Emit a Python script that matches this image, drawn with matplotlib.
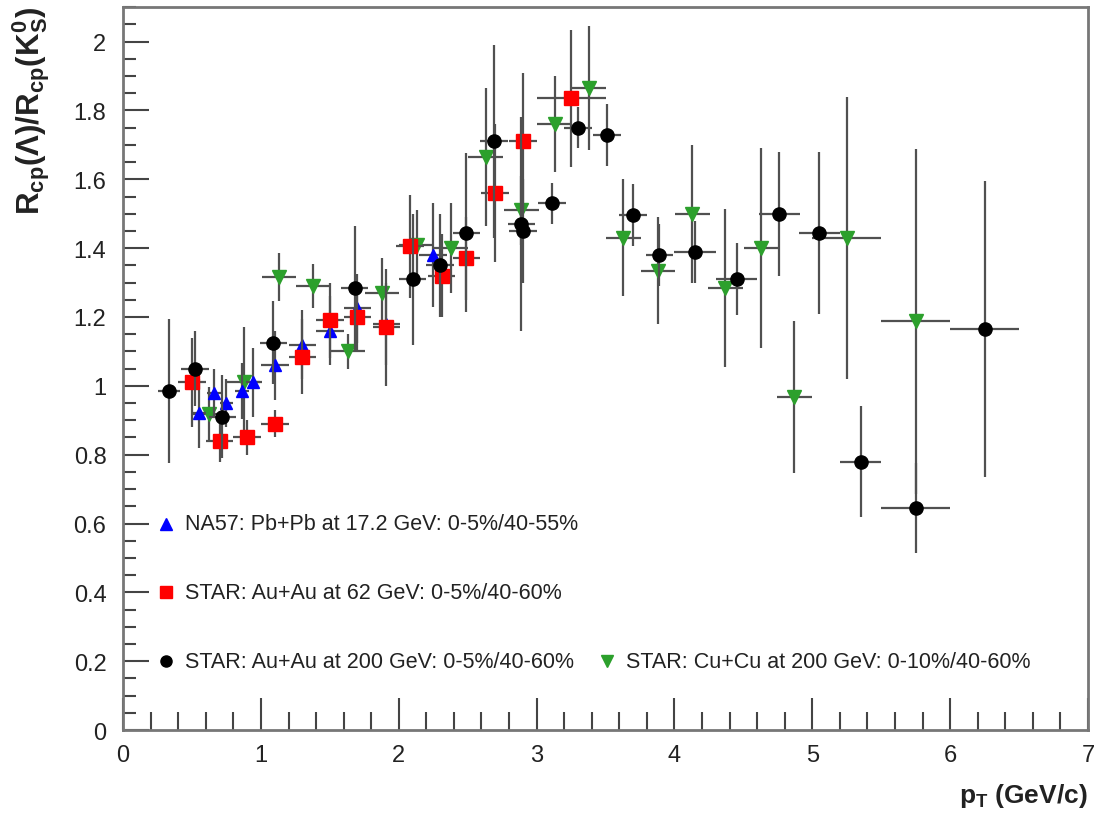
import matplotlib
matplotlib.use("Agg")
import matplotlib.pyplot as plt
from matplotlib.ticker import MultipleLocator

plt.rcParams['font.family'] = ['Liberation Sans', 'DejaVu Sans']
plt.rcParams['mathtext.fontset'] = 'custom'
plt.rcParams['mathtext.rm'] = 'Liberation Sans:bold'
plt.rcParams['mathtext.bf'] = 'Liberation Sans:bold'
plt.rcParams['mathtext.it'] = 'Liberation Sans:bold'
plt.rcParams['mathtext.default'] = 'bf'

# STAR Au+Au 200 GeV
black_x = [0.33, 0.52, 0.72, 1.09, 1.68, 2.10, 2.30, 2.49, 2.69, 2.89, 2.90, 3.11, 3.30, 3.51,
           3.70, 3.89, 4.15, 4.45, 4.76, 5.05, 5.35, 5.75, 6.25]
black_y = [0.985, 1.05, 0.91, 1.125, 1.285, 1.31, 1.35, 1.445, 1.71, 1.47, 1.45, 1.53, 1.75, 1.73,
           1.495, 1.38, 1.39, 1.31, 1.50, 1.445, 0.78, 0.645, 1.165]
black_yerr = [0.21, 0.11, 0.12, 0.12, 0.18, 0.19, 0.15, 0.23, 0.28, 0.31, 0.15, 0.06, 0.06, 0.09,
              0.09, 0.09, 0.09, 0.105, 0.18, 0.235, 0.16, 0.13, 0.43]
black_xerr = [0.08, 0.1, 0.1, 0.1, 0.1, 0.1, 0.1, 0.1, 0.1, 0.1, 0.1, 0.1, 0.1, 0.1,
              0.1, 0.1, 0.15, 0.15, 0.15, 0.15, 0.15, 0.25, 0.25]

# STAR Au+Au 62 GeV
red_x = [0.50, 0.70, 0.90, 1.10, 1.30, 1.50, 1.70, 1.91, 2.08, 2.31, 2.49, 2.70, 2.90, 3.25]
red_y = [1.01, 0.84, 0.85, 0.89, 1.085, 1.19, 1.20, 1.17, 1.405, 1.32, 1.37, 1.56, 1.71, 1.835]
red_yerr = [0.13, 0.06, 0.05, 0.04, 0.11, 0.11, 0.10, 0.17, 0.15, 0.12, 0.12, 0.2, 0.2, 0.2]
red_xerr = [0.1, 0.1, 0.1, 0.1, 0.1, 0.1, 0.1, 0.1, 0.1, 0.1, 0.1, 0.1, 0.1, 0.25]

# NA57 Pb+Pb 17.2 GeV
blue_x = [0.55, 0.66, 0.75, 0.86, 0.94, 1.10, 1.30, 1.50, 1.70, 1.91, 2.25]
blue_y = [0.92, 0.98, 0.95, 0.985, 1.01, 1.06, 1.12, 1.16, 1.225, 1.18, 1.38]
blue_yerr = [0.1, 0.07, 0.07, 0.08, 0.1, 0.1, 0.1, 0.1, 0.1, 0.12, 0.15]
blue_xerr = [0.05, 0.05, 0.05, 0.05, 0.05, 0.1, 0.1, 0.1, 0.1, 0.1, 0.1]

# STAR Cu+Cu 200 GeV
green_x = [0.62, 0.88, 1.13, 1.38, 1.63, 1.88, 2.13, 2.38, 2.63, 2.89, 3.13, 3.38, 3.63, 3.88,
           4.13, 4.37, 4.63, 4.87, 5.25, 5.75]
green_y = [0.917, 1.01, 1.315, 1.29, 1.10, 1.27, 1.41, 1.40, 1.665, 1.51, 1.76, 1.866, 1.43, 1.335,
           1.50, 1.285, 1.40, 0.967, 1.43, 1.187]
green_yerr = [0.08, 0.16, 0.07, 0.065, 0.05, 0.1, 0.1, 0.13, 0.2, 0.1, 0.14, 0.18, 0.17, 0.155,
              0.2, 0.23, 0.29, 0.22, 0.41, 0.5]
green_xerr = [0.125] * 18 + [0.25, 0.25]

labels = ["NA57: Pb+Pb at 17.2 GeV: 0-5%/40-55%",
          "STAR: Au+Au at 62 GeV: 0-5%/40-60%",
          "STAR: Au+Au at 200 GeV: 0-5%/40-60%",
          "STAR: Cu+Cu at 200 GeV: 0-10%/40-60%"]

fig = plt.figure(figsize=(10.99, 8.2), dpi=100)
ax = fig.add_axes([0.112, 0.1085, 0.878, 0.8815])

ecol = '#505050'
kw = dict(linestyle='none', ecolor=ecol, elinewidth=1.6, capsize=0)
ax.errorbar(green_x, green_y, yerr=green_yerr, xerr=green_xerr, fmt='v', color='#2ca02c',
            ms=10, mec='#2ca02c', **kw, zorder=3)
ax.errorbar(blue_x, blue_y, yerr=blue_yerr, xerr=blue_xerr, fmt='^', color='#0000ff',
            ms=9, **kw, zorder=4)
ax.errorbar(red_x, red_y, yerr=red_yerr, xerr=red_xerr, fmt='s', color='#ff0000',
            ms=10, **kw, zorder=5)
ax.errorbar(black_x, black_y, yerr=black_yerr, xerr=black_xerr, fmt='o', color='black',
            ms=9.5, **kw, zorder=6)

# in-plot legend
ax.plot(0.31, 0.60, '^', color='#0000ff', ms=8)
ax.plot(0.31, 0.40, 's', color='#ff0000', ms=9)
ax.plot(0.31, 0.20, 'o', color='black', ms=8)
ax.plot(3.51, 0.20, 'v', color='#2ca02c', ms=9)
tkw = dict(fontsize=15.5, color='#222222', va='center', ha='left')
ax.text(0.45, 0.60, labels[0], **tkw)
ax.text(0.45, 0.40, labels[1], **tkw)
ax.text(0.45, 0.20, labels[2], **tkw)
ax.text(3.65, 0.20, labels[3], **tkw)

ax.set_xlim(0, 7)
ax.set_ylim(0, 2.1)
ax.xaxis.set_major_locator(MultipleLocator(1))
ax.xaxis.set_minor_locator(MultipleLocator(0.2))
ax.yaxis.set_minor_locator(MultipleLocator(0.05))
ax.set_yticks([0, 0.2, 0.4, 0.6, 0.8, 1, 1.2, 1.4, 1.6, 1.8, 2])
ax.set_yticklabels(['0', '0.2', '0.4', '0.6', '0.8', '1', '1.2', '1.4', '1.6', '1.8', '2'])
ax.tick_params(which='both', direction='in', top=False, right=False, colors='#444444',
               labelcolor='#222222', labelsize=17, width=1.5)
ax.tick_params(axis='x', which='major', length=23, pad=10)
ax.tick_params(axis='x', which='minor', length=13)
ax.tick_params(axis='y', which='major', length=19, pad=12)
ax.tick_params(axis='y', which='minor', length=9)
for s in ax.spines.values():
    s.set_color('#777777')
    s.set_linewidth(2)

fig.text(0.028, 0.992, r'$R_{cp}(Λ)/R_{cp}(K^{0}_{S})$', rotation=90, ha='center', va='top',
         fontsize=22.5, color='#222222')
fig.text(0.99, 0.012, r'$p_{T}$ (GeV/c)', ha='right', va='bottom', fontsize=19,
         fontweight='bold', color='#222222')

fig.savefig('out.png', dpi=100)
